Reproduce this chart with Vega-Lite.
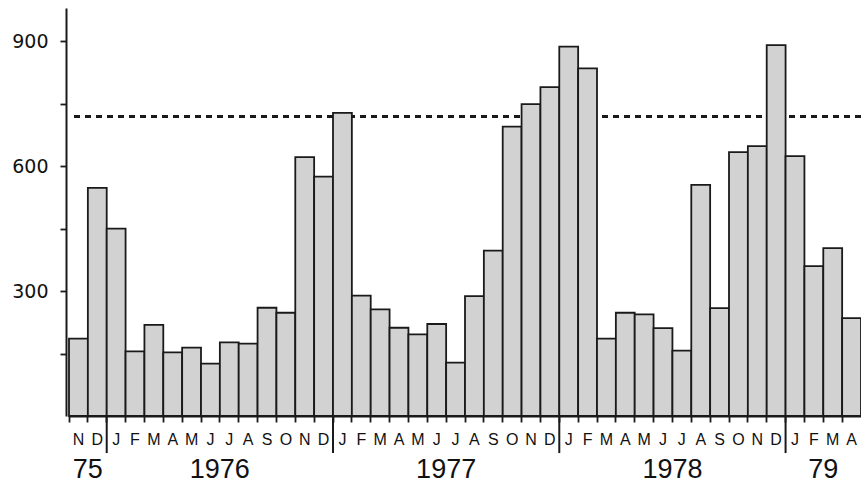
{
  "$schema": "https://vega.github.io/schema/vega-lite/v6.json",
  "width": 792,
  "height": 408,
  "padding": {"left": 69, "top": 8, "right": 0, "bottom": 68},
  "autosize": {"type": "none"},
  "background": "white",
  "config": {
    "view": {"stroke": null},
    "axis": {"domainColor": "#1a1a1a", "tickColor": "#1a1a1a", "labelColor": "#111111", "grid": false}
  },
  "data": {
    "values": [
      {"month": "1975-11", "count": 186},
      {"month": "1975-12", "count": 548},
      {"month": "1976-01", "count": 450},
      {"month": "1976-02", "count": 155},
      {"month": "1976-03", "count": 219},
      {"month": "1976-04", "count": 153},
      {"month": "1976-05", "count": 164},
      {"month": "1976-06", "count": 126},
      {"month": "1976-07", "count": 177},
      {"month": "1976-08", "count": 174},
      {"month": "1976-09", "count": 260},
      {"month": "1976-10", "count": 248},
      {"month": "1976-11", "count": 622},
      {"month": "1976-12", "count": 575},
      {"month": "1977-01", "count": 728},
      {"month": "1977-02", "count": 289},
      {"month": "1977-03", "count": 256},
      {"month": "1977-04", "count": 212},
      {"month": "1977-05", "count": 196},
      {"month": "1977-06", "count": 221},
      {"month": "1977-07", "count": 128},
      {"month": "1977-08", "count": 288},
      {"month": "1977-09", "count": 397},
      {"month": "1977-10", "count": 695},
      {"month": "1977-11", "count": 749},
      {"month": "1977-12", "count": 790},
      {"month": "1978-01", "count": 887},
      {"month": "1978-02", "count": 835},
      {"month": "1978-03", "count": 186},
      {"month": "1978-04", "count": 248},
      {"month": "1978-05", "count": 244},
      {"month": "1978-06", "count": 211},
      {"month": "1978-07", "count": 157},
      {"month": "1978-08", "count": 555},
      {"month": "1978-09", "count": 259},
      {"month": "1978-10", "count": 634},
      {"month": "1978-11", "count": 648},
      {"month": "1978-12", "count": 891},
      {"month": "1979-01", "count": 624},
      {"month": "1979-02", "count": 360},
      {"month": "1979-03", "count": 403},
      {"month": "1979-04", "count": 235}
    ]
  },
  "layer": [
    {
      "mark": {"type": "rule", "strokeDash": [6, 5], "strokeWidth": 1.8, "color": "#1a1a1a"},
      "encoding": {
        "y": {"datum": 720, "type": "quantitative"}
      }
    },
    {
      "mark": {"type": "bar", "fill": "#d2d2d2", "stroke": "#1a1a1a", "strokeWidth": 1.8},
      "encoding": {
        "x": {
          "field": "month",
          "type": "ordinal",
          "scale": {"paddingInner": 0, "paddingOuter": 0},
          "axis": {
            "title": null,
            "labelAngle": 0,
            "labelExpr": "['J','F','M','A','M','J','J','A','S','O','N','D'][toNumber(slice(datum.value,5,7))-1]",
            "labelFont": "Liberation Sans",
            "labelFontSize": 16,
            "labelPadding": 9,
            "bandPosition": 0,
            "tickSize": 6,
            "tickWidth": 1.8,
            "domainWidth": 2
          }
        },
        "y": {
          "field": "count",
          "type": "quantitative",
          "scale": {"domain": [0, 980], "nice": false},
          "axis": {
            "title": null,
            "values": [150, 300, 450, 600, 750, 900],
            "labelExpr": "datum.value % 300 === 0 ? datum.label : ''",
            "labelFont": "DejaVu Sans",
            "labelFontSize": 19,
            "labelPadding": 12,
            "tickSize": 6,
            "tickWidth": 1.8,
            "domainWidth": 2,
            "offset": 3
          }
        }
      }
    },
    {
      "data": {"values": [{"month": "1976-01"}, {"month": "1977-01"}, {"month": "1978-01"}, {"month": "1979-01"}]},
      "mark": {"type": "rule", "strokeWidth": 2, "color": "#1a1a1a"},
      "encoding": {
        "x": {"field": "month", "type": "ordinal", "bandPosition": 0},
        "y": {"datum": 0, "type": "quantitative"},
        "y2": {"datum": -89}
      }
    },
    {
      "data": {
        "values": [
          {"label": "75", "month": "1975-12"},
          {"label": "1976", "month": "1976-07"},
          {"label": "1977", "month": "1977-07"},
          {"label": "1978", "month": "1978-07"},
          {"label": "79", "month": "1979-03"}
        ]
      },
      "mark": {"type": "text", "font": "Liberation Sans", "fontSize": 27, "align": "center", "baseline": "middle", "color": "#111111"},
      "encoding": {
        "x": {"field": "month", "type": "ordinal", "bandPosition": 0},
        "y": {"datum": -130, "type": "quantitative"},
        "text": {"field": "label"}
      }
    }
  ]
}
